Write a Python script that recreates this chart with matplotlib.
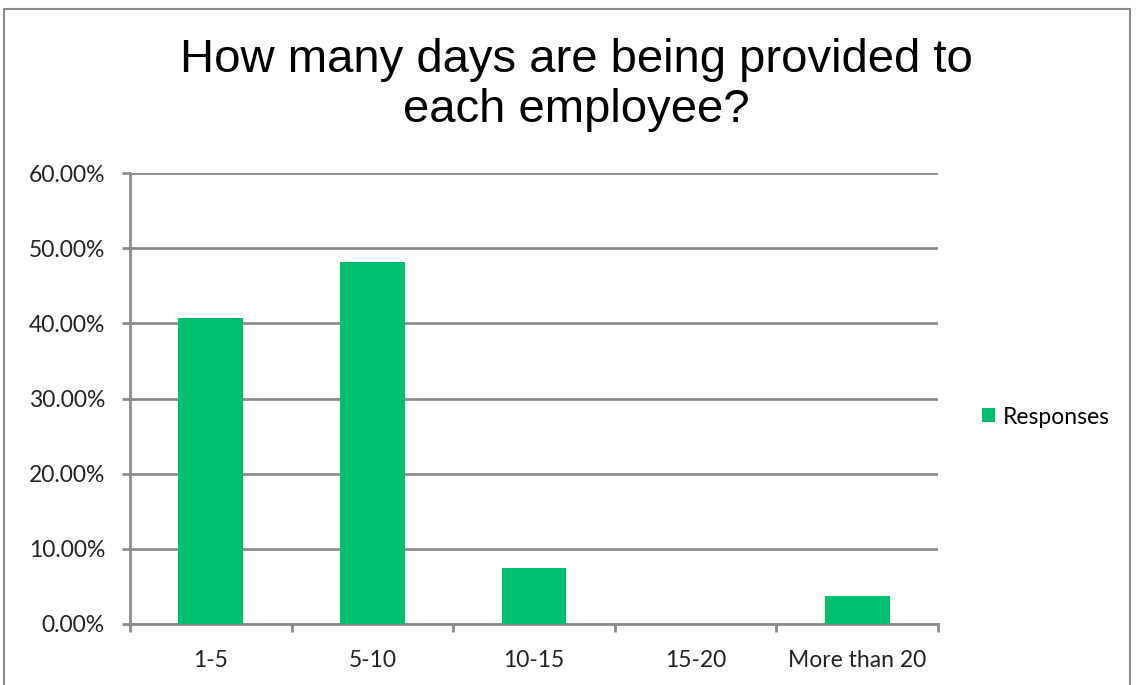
import matplotlib.pyplot as plt
from matplotlib.patches import Rectangle
from matplotlib.ticker import FuncFormatter

categories = ["1-5", "5-10", "10-15", "15-20", "More than 20"]
responses = [40.74, 48.15, 7.41, 0.0, 3.70]
y_ticks = [0, 10, 20, 30, 40, 50, 60]

W, H = 1138, 685
fig = plt.figure(figsize=(W / 100, H / 100), dpi=100)
fig.patch.set_facecolor("white")

# outer chart frame
fig.add_artist(Rectangle((4 / W, -0.05), 1126 / W, 1 - 9 / H + 0.05,
                         transform=fig.transFigure, fill=False,
                         edgecolor="#8a8a8a", linewidth=1.5))

ax = fig.add_axes([130 / W, 1 - 624 / H, 808 / W, 451 / H])
x = range(len(categories))
ax.bar(x, responses, width=0.4, color="#00bf6f", label="Responses", zorder=3)

ax.set_xlim(-0.5, len(categories) - 0.5)
ax.set_ylim(0, 60)
ax.set_yticks(y_ticks)
ax.yaxis.set_major_formatter(FuncFormatter(lambda v, p: f"{v:.2f}%"))
ax.set_xticks(list(x))
ax.set_xticklabels(categories)
ax.set_xticks([i - 0.5 for i in range(len(categories) + 1)], minor=True)

grid_col = "#8c8c8c"
lab_size = 16.5
ax.grid(axis="y", color=grid_col, linewidth=2, zorder=0)
for s in ["top", "right"]:
    ax.spines[s].set_visible(False)
for s in ["left", "bottom"]:
    ax.spines[s].set_color(grid_col)
    ax.spines[s].set_linewidth(2)
ax.tick_params(axis="y", length=6, width=2, color=grid_col, pad=12,
               labelsize=lab_size, labelcolor="#222222")
ax.tick_params(axis="x", which="major", length=0, pad=19,
               labelsize=lab_size, labelcolor="#222222")
ax.tick_params(axis="x", which="minor", length=6, width=2, color=grid_col)
for lab in ax.get_xticklabels() + ax.get_yticklabels():
    lab.set_fontfamily("Lato")

fig.text(576 / W, 1 - 85 / H, "How many days are being provided to\neach employee?",
         ha="center", va="center", fontsize=34, family="Liberation Sans",
         linespacing=1.15)

leg = ax.legend(loc="center left", bbox_to_anchor=(982 / W, 1 - 417 / H),
                bbox_transform=fig.transFigure, frameon=False,
                borderpad=0, borderaxespad=0,
                prop={"family": "Lato", "size": lab_size}, handlelength=0.55,
                handleheight=0.55, handletextpad=0.35)

fig.savefig("out.png", dpi=100)
